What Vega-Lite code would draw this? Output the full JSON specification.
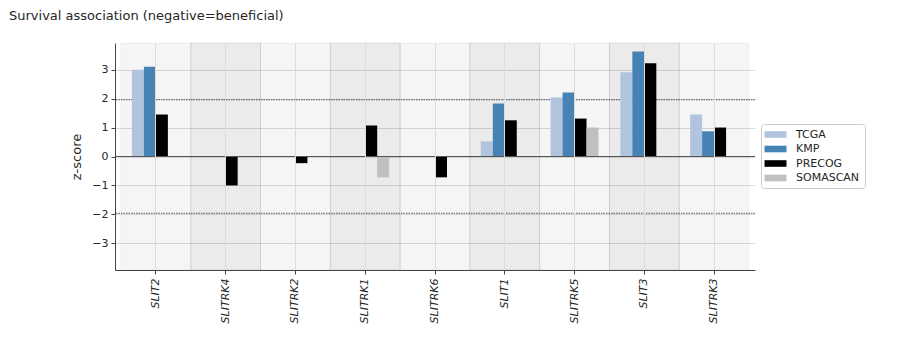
{
  "$schema": "https://vega.github.io/schema/vega-lite/v6.json",
  "width": 640,
  "height": 227,
  "autosize": {"type": "none"},
  "padding": {"left": 115, "top": 43, "right": 163, "bottom": 90},
  "background": "white",
  "config": {
    "view": {"stroke": null},
    "font": "DejaVu Sans",
    "axis": {"labelFont": "DejaVu Sans", "titleFont": "DejaVu Sans"},
    "axisQuantitative": {"labelOverlap": false},
    "axisLeft": {"labelOverlap": false},
    "legend": {"labelFont": "DejaVu Sans"}
  },
  "title": {
    "text": "Survival association (negative=beneficial)",
    "anchor": "start",
    "frame": "group",
    "dx": -106,
    "offset": 20,
    "fontSize": 13,
    "fontWeight": "normal",
    "color": "#262626"
  },
  "datasets": {
    "scores": [
      {"gene": "SLIT2", "source": "TCGA", "z": 3.0},
      {"gene": "SLIT2", "source": "KMP", "z": 3.1},
      {"gene": "SLIT2", "source": "PRECOG", "z": 1.45},
      {"gene": "SLITRK4", "source": "PRECOG", "z": -1.0},
      {"gene": "SLITRK2", "source": "PRECOG", "z": -0.23},
      {"gene": "SLITRK1", "source": "PRECOG", "z": 1.07},
      {"gene": "SLITRK1", "source": "SOMASCAN", "z": -0.72},
      {"gene": "SLITRK6", "source": "PRECOG", "z": -0.72},
      {"gene": "SLIT1", "source": "TCGA", "z": 0.52},
      {"gene": "SLIT1", "source": "KMP", "z": 1.83},
      {"gene": "SLIT1", "source": "PRECOG", "z": 1.25},
      {"gene": "SLITRK5", "source": "TCGA", "z": 2.04},
      {"gene": "SLITRK5", "source": "KMP", "z": 2.21},
      {"gene": "SLITRK5", "source": "PRECOG", "z": 1.31},
      {"gene": "SLITRK5", "source": "SOMASCAN", "z": 1.0},
      {"gene": "SLIT3", "source": "TCGA", "z": 2.91},
      {"gene": "SLIT3", "source": "KMP", "z": 3.63},
      {"gene": "SLIT3", "source": "PRECOG", "z": 3.22},
      {"gene": "SLITRK3", "source": "TCGA", "z": 1.45},
      {"gene": "SLITRK3", "source": "KMP", "z": 0.87},
      {"gene": "SLITRK3", "source": "PRECOG", "z": 1.0}
    ],
    "genes": [
      {"gene": "SLIT2"}, {"gene": "SLITRK4"}, {"gene": "SLITRK2"}, {"gene": "SLITRK1"},
      {"gene": "SLITRK6"}, {"gene": "SLIT1"}, {"gene": "SLITRK5"}, {"gene": "SLIT3"}, {"gene": "SLITRK3"}
    ],
    "shaded": [
      {"gene": "SLITRK4"}, {"gene": "SLITRK1"}, {"gene": "SLIT1"}, {"gene": "SLIT3"}
    ],
    "thresholds": [{"z": 1.96}, {"z": -1.96}]
  },
  "encoding": {
    "y": {
      "type": "quantitative",
      "scale": {"domain": [-3.92, 3.92], "nice": false, "zero": false},
      "axis": {
        "title": "z-score", "titleFontSize": 13, "titleFontWeight": "normal", "titleColor": "#262626",
        "values": [-3, -2, -1, 0, 1, 2, 3], "labelOverlap": false, "labelFontSize": 11, "labelColor": "#262626",
        "tickSize": 4, "tickColor": "#444444", "domainColor": "#444444", "labelPadding": 3,
        "grid": true, "gridColor": "#dcdcdc", "gridWidth": 1, "titlePadding": 8
      }
    }
  },
  "layer": [
    {
      "data": {"name": "genes"},
      "mark": {"type": "rect", "fill": "#000000", "fillOpacity": 0.04, "stroke": "#000000", "strokeOpacity": 0.05, "strokeWidth": 1},
      "encoding": {
        "x": {
          "field": "gene", "type": "nominal", "sort": null,
          "scale": {
            "domain": ["SLIT2", "SLITRK4", "SLITRK2", "SLITRK1", "SLITRK6", "SLIT1", "SLITRK5", "SLIT3", "SLITRK3"],
            "paddingInner": 0, "paddingOuter": 0.086
          },
          "axis": {
            "title": null, "labelAngle": -90, "labelFontStyle": "italic", "labelFontSize": 11,
            "labelColor": "#262626", "labelPadding": 4, "tickSize": 4, "tickColor": "#444444",
            "domainColor": "#444444", "grid": true, "gridColor": "#dcdcdc", "gridWidth": 1
          }
        },
        "y": {"datum": 3.92, "type": "quantitative"},
        "y2": {"datum": -3.92}
      }
    },
    {
      "data": {"name": "shaded"},
      "mark": {"type": "rect", "fill": "#000000", "fillOpacity": 0.04, "stroke": "#000000", "strokeOpacity": 0.05, "strokeWidth": 1},
      "encoding": {
        "x": {"field": "gene", "type": "nominal", "sort": null},
        "y": {"datum": 3.92, "type": "quantitative"},
        "y2": {"datum": -3.92}
      }
    },
    {
      "data": {"name": "thresholds"},
      "mark": {"type": "rule", "color": "#333333", "strokeWidth": 0.8, "strokeDash": [1.5, 1]},
      "encoding": {
        "y": {"field": "z", "type": "quantitative"}
      }
    },
    {
      "data": {"name": "scores"},
      "mark": {"type": "bar", "width": {"band": 1}},
      "encoding": {
        "x": {"field": "gene", "type": "nominal", "sort": null},
        "xOffset": {
          "field": "source", "type": "nominal",
          "scale": {"domain": ["TCGA", "KMP", "PRECOG", "SOMASCAN"], "paddingInner": 0, "paddingOuter": 0.91}
        },
        "y": {"field": "z", "type": "quantitative"},
        "color": {
          "field": "source", "type": "nominal",
          "scale": {"domain": ["TCGA", "KMP", "PRECOG", "SOMASCAN"], "range": ["#b0c4de", "#4682b4", "#000000", "#c0c0c0"]},
          "legend": {
            "title": null, "orient": "none", "legendX": 646, "legendY": 81,
            "symbolType": "M-2,-0.6H2V0.6H-2Z", "symbolSize": 121, "symbolStrokeWidth": 0,
            "symbolOffset": 4,
            "symbolOpacity": 1, "labelFontSize": 11, "labelColor": "#262626",
            "fillColor": "white", "strokeColor": "#cccccc", "cornerRadius": 3, "padding": 5,
            "rowPadding": 2.5, "labelOffset": 15
          }
        }
      }
    },
    {
      "data": {"values": [{"z": 0}]},
      "mark": {"type": "rule", "color": "#555555", "strokeWidth": 1},
      "encoding": {
        "y": {"field": "z", "type": "quantitative"}
      }
    }
  ]
}
